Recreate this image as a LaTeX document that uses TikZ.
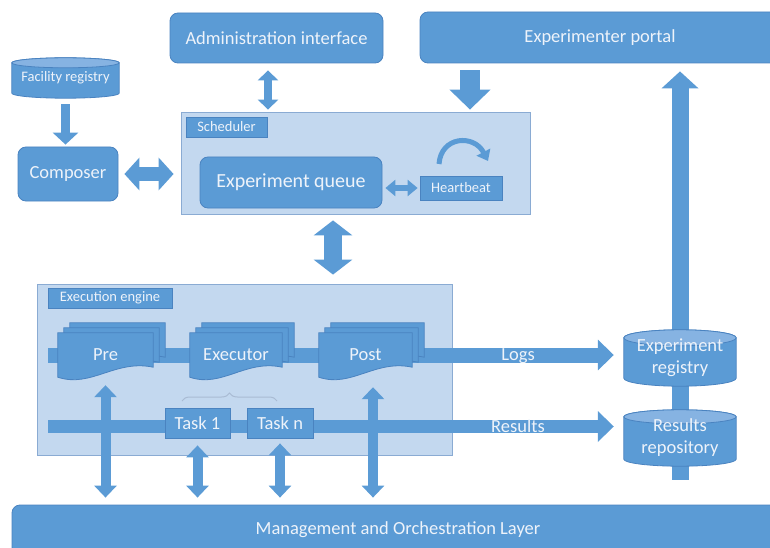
\documentclass[tikz,border=0pt]{standalone}
\usepackage{fontspec}
\setmainfont{Carlito}
\usetikzlibrary{arrows.meta,decorations.pathreplacing,calc}

\pgfdeclarelayer{panels}
\pgfdeclarelayer{bars}
\pgfdeclarelayer{shapes}
\pgfsetlayers{panels,bars,shapes,main}

\definecolor{mainblue}{HTML}{5B9BD5}
\definecolor{edgeblue}{HTML}{4A83C0}
\definecolor{paleblue}{HTML}{C3D8EF}
\definecolor{paleedge}{HTML}{8AABD3}
\definecolor{topface}{HTML}{86B3E2}
\definecolor{labeltext}{HTML}{EEF3FA}
\definecolor{bracegray}{HTML}{A9BBD3}

\tikzset{
  lbl/.style={text=labeltext, inner sep=0pt, font=\fontsize{18.5}{22}\selectfont},
  box/.style={lbl, fill=mainblue, draw=edgeblue, line width=0.8pt},
  rbox/.style={box, rounded corners=8pt},
  tagbox/.style={box, font=\fontsize{14.5}{16}\selectfont},
  panel/.style={fill=paleblue, draw=paleedge, line width=0.8pt, inner sep=0pt},
  body/.style={lbl, align=center},
  shapefill/.style={fill=mainblue, draw=edgeblue, line width=0.8pt},
  topfill/.style={fill=topface, draw=edgeblue, line width=0.8pt},
  onearrow/.style n args={3}{draw=mainblue, line width=#1, -{Triangle[width=#2,length=#3]}},
  twoarrow/.style n args={3}{draw=mainblue, line width=#1, {Triangle[width=#2,length=#3]}-{Triangle[width=#2,length=#3]}},
  bar/.style={draw=mainblue, line width=#1},
  turnarrow/.style={draw=mainblue, line width=5pt, -{Triangle[width=15pt,length=10pt]}},
  bracemark/.style={draw=bracegray, line width=1pt, decorate, decoration={brace, amplitude=8pt}},
}

% cylinder (database) drawn around a node: node name, half height of the end ellipses
\newcommand\cylshape[2]{%
  \filldraw[shapefill] let \p1=(#1.north west), \p2=(#1.south east) in
    (\x1,\y1) -- (\x1,\y2)
    arc[start angle=180, end angle=360, x radius={(\x2-\x1)/2}, y radius=#2pt]
    -- (\x2,\y1)
    arc[start angle=0, end angle=180, x radius={(\x2-\x1)/2}, y radius=#2pt] -- cycle;
  \filldraw[topfill] let \p1=(#1.north west), \p2=(#1.south east) in
    ({(\x1+\x2)/2},\y1) ellipse[x radius={(\x2-\x1)/2}, y radius=#2pt];
}

% one sheet of a document stack: node name, offset right, offset up
\newcommand\docshape[3]{%
  \filldraw[shapefill] let \p1=(#1.north west), \p2=(#1.south east) in
    ({\x1+#2pt},{\y1+#3pt}) -- ({\x2+#2pt},{\y1+#3pt}) -- ({\x2+#2pt},{\y2+#3pt+10pt})
    .. controls ({\x1+#2pt+0.6*(\x2-\x1)},{\y2+#3pt+18pt}) and ({\x1+#2pt+0.35*(\x2-\x1)},{\y2+#3pt-11pt}) ..
    ({\x1+#2pt},{\y2+#3pt}) -- cycle;
}

\begin{document}
\begin{tikzpicture}[x=1pt,y=-1pt]
\useasboundingbox (0,0) rectangle (770,548);
\clip (0,0) rectangle (770,548);

% containers
\begin{pgfonlayer}{panels}
  \node[panel, minimum width=349, minimum height=102] (sched) at (355.5,163) {};
  \node[panel, minimum width=415, minimum height=171] (exec) at (244.5,369.5) {};
\end{pgfonlayer}

% boxes
\node[rbox, minimum width=213, minimum height=50] (admin) at (276.5,38) {Administration interface};
\node[rbox, minimum width=360, minimum height=51] (portal) at (600,37.5) {Experimenter portal};
\node[rbox, minimum width=100, minimum height=54] (composer) at (68,174) {Composer};
\node[rbox, minimum width=182, minimum height=51, font=\fontsize{20}{24}\selectfont] (queue) at (291,182.5) {Experiment queue};
\node[tagbox, minimum width=81, minimum height=20] (schedtag) at (226.5,127) {Scheduler};
\node[tagbox, minimum width=82, minimum height=24] (heart) at (461,188) {Heartbeat};
\node[tagbox, minimum width=124, minimum height=20] (exectag) at (110,298) {Execution engine};
\node[box, minimum width=65, minimum height=30] (task1) at (197.5,423) {Task 1};
\node[box, minimum width=66, minimum height=30] (taskn) at (280,423) {Task n};
\node[rbox, minimum width=772, minimum height=50] (mgmt) at (398,530) {Management and Orchestration Layer};

% databases
\node[body, font=\fontsize{14.5}{16}\selectfont, minimum width=107, minimum height=30] (freg) at (65.5,78) {Facility registry};
\node[body, minimum width=112, minimum height=40] (ereg) at (680,358) {Experiment\\registry};
\node[body, minimum width=112, minimum height=42] (rrep) at (680,438) {Results\\repository};

% document stacks
\node[body, minimum width=95, minimum height=44] (pre) at (105.5,355) {Pre};
\node[body, minimum width=92, minimum height=44] (executor) at (236,355) {Executor};
\node[body, minimum width=93, minimum height=44] (post) at (365.5,355) {Post};

\begin{pgfonlayer}{shapes}
  \cylshape{freg}{5}
  \cylshape{ereg}{8}
  \cylshape{rrep}{7}
  \foreach \d in {pre,executor,post}{
    \docshape{\d}{12}{10}
    \docshape{\d}{6}{5}
    \docshape{\d}{0}{0}
  }
\end{pgfonlayer}

% reference points
\coordinate (adminX) at (268,0);
\coordinate (portalX) at (470,0);
\coordinate (midX) at (333,0);
\coordinate (postX) at (373,0);
\coordinate (logsStart) at (48,355);
\coordinate (resStart) at (48,426.5);
\coordinate (stub) at (680,480);
\coordinate (beatL) at (439,164);
\coordinate (beatR) at (488,161);
\coordinate (braceL) at (182,401);
\coordinate (braceR) at (277,401);

% data flow bars
\begin{pgfonlayer}{bars}
  \draw[onearrow={15pt}{30pt}{16pt}, shorten >=10pt] (logsStart) -- (logsStart -| ereg.west);
  \draw[onearrow={13pt}{30pt}{16pt}, shorten >=10pt] (resStart) -- (resStart -| rrep.west);
  \draw[bar=17pt] (ereg.center) -- (rrep.center);
  \draw[bar=17pt] (rrep.center) -- (stub);
  \draw[onearrow={17pt}{36pt}{17pt}, shorten >=8pt] (ereg.center) -- (portal.south -| ereg.center);
\end{pgfonlayer}

\node[lbl] (logs) at (518,356) {Logs};
\node[lbl] (results) at (518,426) {Results};

% connectors
\draw[onearrow={9pt}{25pt}{12pt}, shorten <=11pt, shorten >=2pt] (freg.south) -- (freg.south |- composer.north);
\draw[twoarrow={13pt}{32pt}{15pt}, shorten <=6pt, shorten >=7pt] (composer.east) -- (sched.west |- composer.east);
\draw[twoarrow={8pt}{20pt}{10pt}, shorten <=7pt, shorten >=2pt] (admin.south -| adminX) -- (sched.north -| adminX);
\draw[onearrow={20pt}{40pt}{20pt}, shorten <=7pt, shorten >=2pt] (portal.south -| portalX) -- (sched.north -| portalX);
\draw[twoarrow={6pt}{16pt}{10pt}, shorten <=3pt, shorten >=2pt] (queue.east |- heart.west) -- (heart.west);
\draw[twoarrow={18pt}{38pt}{15pt}, shorten <=6pt, shorten >=9pt] (sched.south -| midX) -- (exec.north -| midX);
\draw[turnarrow] (beatL) .. controls (441,136) and (474,134) .. (beatR);

\draw[twoarrow={10pt}{22pt}{12pt}, shorten <=8pt, shorten >=7pt] (pre.south) -- (pre.south |- mgmt.north);
\draw[twoarrow={10pt}{22pt}{12pt}, shorten <=7pt, shorten >=7pt] (task1.south) -- (task1.south |- mgmt.north);
\draw[twoarrow={10pt}{22pt}{12pt}, shorten <=5pt, shorten >=7pt] (taskn.south) -- (taskn.south |- mgmt.north);
\draw[twoarrow={10pt}{22pt}{12pt}, shorten <=10pt, shorten >=7pt] (post.south -| postX) -- (mgmt.north -| postX);

\draw[bracemark] (braceL) -- (braceR);
\end{tikzpicture}
\end{document}
